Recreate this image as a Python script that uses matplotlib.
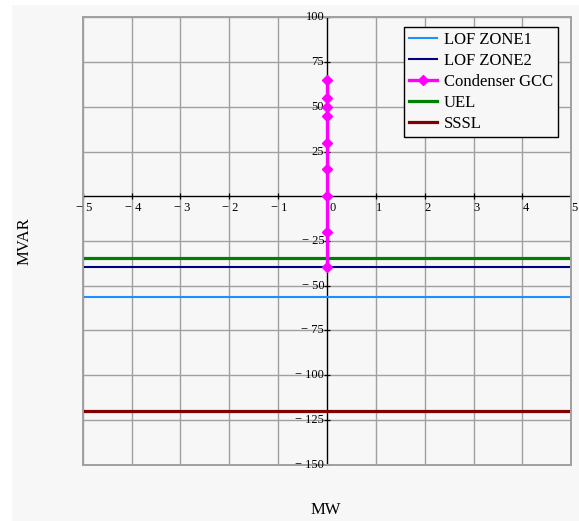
import matplotlib.pyplot as plt
from matplotlib.patches import Rectangle

W, H = 579, 521

# data
x_span = [-5, 5]
lof_zone1 = -56.5
lof_zone2 = -39.3
uel = -34.7
sssl = -120.0
gcc_mw = [0.01, 0.01, 0.01, 0.01, 0.01, 0.01, 0.01, 0.01, 0.01]
gcc_mvar = [65, 55, 50, 45, 30, 15, 0, -20, -39.3]

x_ticks = [-5, -4, -3, -2, -1, 0, 1, 2, 3, 4, 5]
y_ticks = [100, 75, 50, 25, 0, -25, -50, -75, -100, -125, -150]

BG = "#f7f7f7"
GRID = "#a0a0a0"
SERIF = ["Liberation Serif", "DejaVu Serif"]

plt.rcParams["font.family"] = SERIF

fig = plt.figure(figsize=(W / 100, H / 100), dpi=100)
fig.patch.set_facecolor("white")
fig.patches.append(Rectangle((12 / W, 0), 1, 1 - 5 / H, transform=fig.transFigure,
                             facecolor=BG, edgecolor="none", zorder=-10))

ax = fig.add_axes([82.7 / W, 1 - 464.7 / H, (571.3 - 82.7) / W, (464.7 - 17.3) / H])
ax.set_facecolor(BG)
ax.set_xlim(-5, 5)
ax.set_ylim(-150, 100)
ax.set_xticks(x_ticks)
ax.set_yticks(y_ticks)
ax.grid(True, color=GRID, linewidth=1.0)
ax.tick_params(length=0, labelbottom=False, labelleft=False)
for spine in ax.spines.values():
    spine.set_color(GRID)
    spine.set_linewidth(1.4)

# axes through the origin
ax.axhline(0, color="black", linewidth=0.9, zorder=2)
ax.axvline(0, color="black", linewidth=0.9, zorder=2)
ax.plot(x_ticks, [0] * len(x_ticks), ls="none", marker="|", ms=5, mew=0.9, color="black", zorder=2)
ax.plot([0] * len(y_ticks), y_ticks, ls="none", marker="_", ms=5, mew=0.9, color="black", zorder=2)

for v in x_ticks:
    if v < 0:
        ax.annotate(f"\u2212 {abs(v)}", (v, 0), xytext=(1, -4), textcoords="offset points",
                    ha="center", va="top", fontsize=9)
    else:
        ax.annotate(f"{v}", (v, 0), xytext=(2 if v == 0 else 0, -4), textcoords="offset points",
                    ha="left", va="top", fontsize=9)
for v in y_ticks:
    if v == 0:
        continue
    lbl = f"\u2212 {abs(v)}" if v < 0 else f"{v}"
    ax.annotate(lbl, (0, v), xytext=(-2, 0), textcoords="offset points",
                ha="right", va="center", fontsize=9)

ax.plot(x_span, [lof_zone1] * 2, color="#1e8fff", linewidth=1.5, label="LOF ZONE1")
ax.plot(x_span, [lof_zone2] * 2, color="#000080", linewidth=1.5, label="LOF ZONE2")
ax.plot(gcc_mw, gcc_mvar, color="#ff00ff", linewidth=2.4, marker="D", ms=5,
        label="Condenser GCC", zorder=5)
ax.plot(x_span, [uel] * 2, color="#008000", linewidth=2.3, label="UEL")
ax.plot(x_span, [sssl] * 2, color="#800000", linewidth=2.3, label="SSSL")

leg = ax.legend(loc="upper left", bbox_to_anchor=(404 / W, 1 - 27.3 / H),
                bbox_transform=fig.transFigure, borderaxespad=0, fontsize=12,
                fancybox=False, framealpha=1, facecolor=BG, edgecolor="black",
                handlelength=1.7, handletextpad=0.4, labelspacing=0.3, borderpad=0.3)
leg.get_frame().set_linewidth(1.0)
leg.set_zorder(10)

fig.text(25 / W, 1 - 241 / H, "MVAR", rotation=90, ha="center", va="center", fontsize=12)
fig.text(326 / W, 1 - 510 / H, "MW", ha="center", va="center", fontsize=12)

fig.savefig("out.png", dpi=100, facecolor="white")
